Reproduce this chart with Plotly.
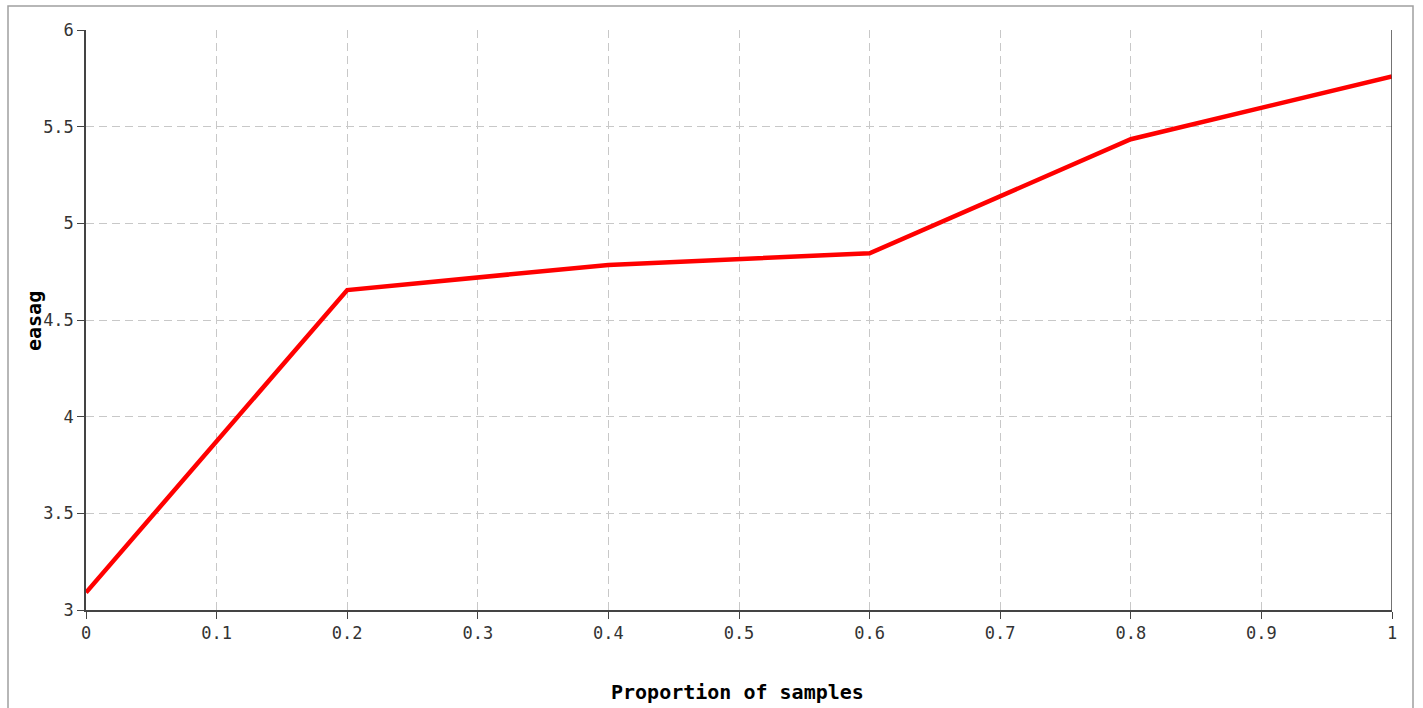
import plotly.graph_objects as go

proportion = [0.0, 0.2, 0.4, 0.6, 0.8, 1.0]
easag = [3.09, 4.655, 4.785, 4.845, 5.435, 5.76]

x_ticks = [0, 0.1, 0.2, 0.3, 0.4, 0.5, 0.6, 0.7, 0.8, 0.9, 1]
x_labels = ["0", "0.1", "0.2", "0.3", "0.4", "0.5", "0.6", "0.7", "0.8", "0.9", "1"]
y_ticks = [3, 3.5, 4, 4.5, 5, 5.5, 6]
y_labels = ["3", "3.5", "4", "4.5", "5", "5.5", "6"]

W, H = 1423, 708
L, R, T, B = 86, 31, 30, 98
pw, ph = W - L - R, H - T - B

fig = go.Figure()
fig.add_trace(go.Scatter(
    x=proportion, y=easag, mode="lines",
    line=dict(color="#ff0000", width=4.5),
    showlegend=False, hoverinfo="skip",
))

mono = "DejaVu Sans Mono, monospace"
font = dict(family=mono, size=17, color="#333")
axis_common = dict(
    showgrid=True, gridcolor="#c8c8c8", griddash="8px,5px", gridwidth=1,
    showline=True, linecolor="#444", linewidth=1.5,
    ticks="outside", ticklen=7, tickcolor="#444", tickwidth=1,
    zeroline=False, tickfont=font,
)

fig.update_layout(
    width=W, height=H,
    margin=dict(l=L, r=R, t=T, b=B, pad=0),
    paper_bgcolor="white", plot_bgcolor="white",
    xaxis=dict(range=[0, 1], tickvals=x_ticks, ticktext=x_labels, **axis_common),
    yaxis=dict(range=[3, 6], tickvals=y_ticks, ticktext=y_labels, **axis_common),
)

title_font = dict(family=mono, size=20, color="#000")
fig.add_annotation(text="<b>Proportion of samples</b>", xref="paper", yref="paper",
                   x=(737.5 - L) / pw, y=(H - B - 692) / ph,
                   xanchor="center", yanchor="middle", showarrow=False, font=title_font)
fig.add_annotation(text="<b>easag</b>", xref="paper", yref="paper",
                   x=(34 - L) / pw, y=(H - B - 321) / ph, textangle=-90,
                   xanchor="center", yanchor="middle", showarrow=False, font=title_font)

# right-hand axis line of the plot area
fig.add_shape(type="line", xref="x", yref="paper", x0=1, x1=1, y0=0, y1=1,
              line=dict(color="#444", width=1.5))

# outer grey frame
fig.add_shape(type="rect", xref="paper", yref="paper",
              x0=(8 - L) / pw, x1=(1413 - L) / pw,
              y0=(H - B - 730) / ph, y1=(H - B - 6) / ph,
              line=dict(color="#a0a0a0", width=1.5), fillcolor="rgba(0,0,0,0)",
              layer="below")

fig.write_html("out.html", config={"displayModeBar": False},
               post_script="document.body.style.margin='0';document.body.style.overflow='hidden';")
